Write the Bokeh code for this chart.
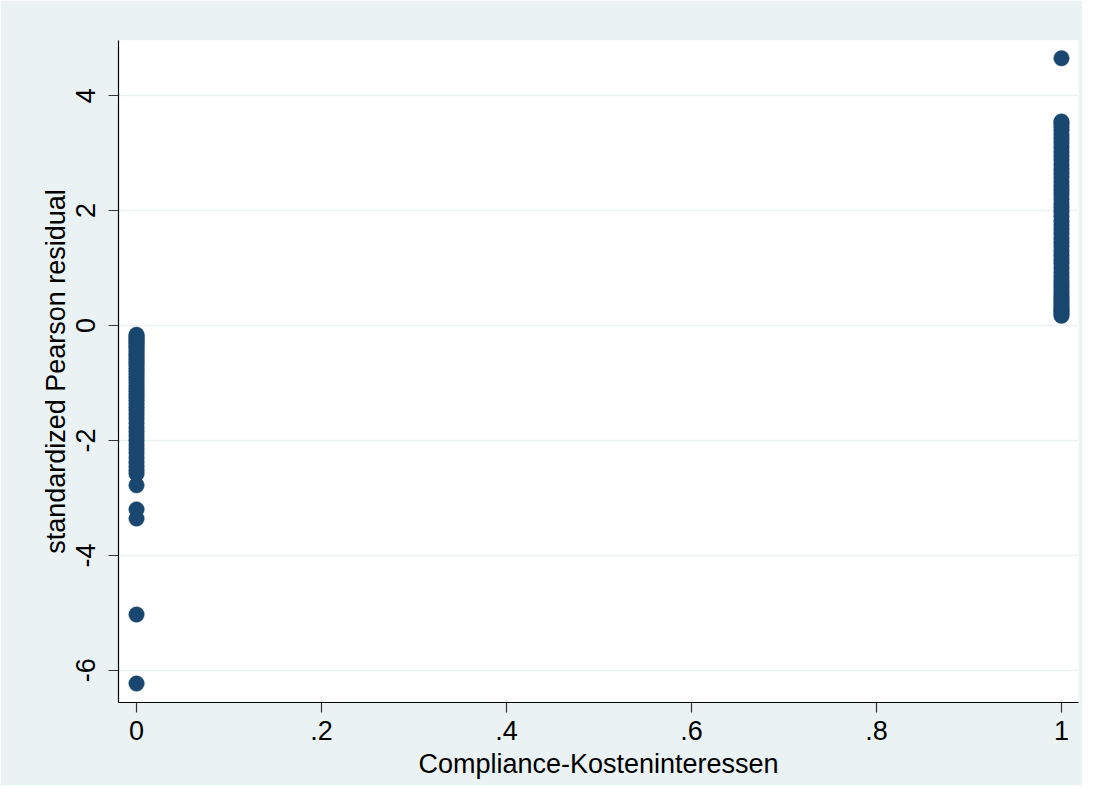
from bokeh.plotting import figure
from bokeh.models import FixedTicker, Range1d
from bokeh.embed import file_html
from bokeh.resources import INLINE

# Data
compliance_groups = [0, 1]
resid_group0 = [-0.16, -0.19, -0.22, -0.25, -0.28, -0.31, -0.35, -0.38, -0.42, -0.46,
                -0.50, -0.54, -0.58, -0.62, -0.66, -0.70, -0.75, -0.80, -0.85, -0.90,
                -0.95, -1.00, -1.05, -1.10, -1.15, -1.20, -1.25, -1.30, -1.36, -1.42,
                -1.48, -1.55, -1.62, -1.70, -1.78, -1.85, -1.92, -2.00, -2.08, -2.15,
                -2.22, -2.30, -2.38, -2.45, -2.52, -2.58, -2.78, -3.20, -3.36, -5.03, -6.23]
resid_group1 = [0.17, 0.20, 0.24, 0.27, 0.30, 0.34, 0.38, 0.42, 0.46, 0.50, 0.55, 0.60,
                0.66, 0.72, 0.78, 0.85, 0.92, 1.00, 1.08, 1.15, 1.22, 1.30,
                1.38, 1.45, 1.52, 1.60, 1.68, 1.75, 1.82, 1.90, 1.98, 2.05,
                2.12, 2.20, 2.28, 2.35, 2.42, 2.50, 2.58, 2.65, 2.72, 2.80,
                2.88, 2.95, 3.02, 3.10, 3.18, 3.25, 3.32, 3.40, 3.46, 3.52, 3.55, 4.65]
x_ticks = [0, 0.2, 0.4, 0.6, 0.8, 1]
x_tick_labels = ["0", ".2", ".4", ".6", ".8", "1"]
y_ticks = [-6, -4, -2, 0, 2, 4]
y_tick_labels = ["-6", "-4", "-2", "0", "2", "4"]

xs = [compliance_groups[0]] * len(resid_group0) + [compliance_groups[1]] * len(resid_group1)
ys = resid_group0 + resid_group1

BG = "#EAF2F3"
NAVY = "#1A476F"
FONT = "Liberation Sans"

p = figure(width=1082, height=785, output_backend="svg", toolbar_location=None,
           x_range=Range1d(-0.0195, 1.0184), y_range=Range1d(-6.56, 4.96),
           min_border_left=118, min_border_right=4, min_border_top=40, min_border_bottom=83)
p.background_fill_color = "white"
p.border_fill_color = BG
p.outline_line_color = None

p.scatter(xs, ys, size=15.5, fill_color=NAVY, line_color=NAVY, line_width=0.5)

p.xgrid.visible = False
p.ygrid.ticker = FixedTicker(ticks=y_ticks)
p.ygrid.grid_line_color = BG
p.ygrid.grid_line_width = 1.5

p.xaxis.ticker = FixedTicker(ticks=x_ticks)
p.xaxis.major_label_overrides = {t: l for t, l in zip(x_ticks, x_tick_labels)}
p.yaxis.ticker = FixedTicker(ticks=y_ticks)
p.yaxis.major_label_overrides = {t: l for t, l in zip(y_ticks, y_tick_labels)}
p.yaxis.major_label_orientation = "vertical"

for ax in (p.xaxis, p.yaxis):
    ax.axis_line_color = "#000000"
    ax.axis_line_width = 1.2
    ax.major_tick_line_color = "#333333"
    ax.major_tick_line_width = 1.2
    ax.major_tick_out = 10
    ax.major_tick_in = 0
    ax.minor_tick_line_color = None
    ax.major_label_text_font = FONT
    ax.major_label_text_font_size = "27px"
    ax.major_label_text_color = "#000000"
    ax.axis_label_text_font = FONT
    ax.axis_label_text_font_size = "27px"
    ax.axis_label_text_font_style = "normal"
    ax.axis_label_text_color = "#000000"

p.xaxis.axis_label = "Compliance-Kosteninteressen"
p.yaxis.axis_label = "standardized Pearson residual"
p.xaxis.major_label_standoff = 8
p.xaxis.axis_label_standoff = 6
p.yaxis.major_label_standoff = 13
p.yaxis.axis_label_standoff = 3

open("out.html", "w").write(file_html(p, INLINE))
